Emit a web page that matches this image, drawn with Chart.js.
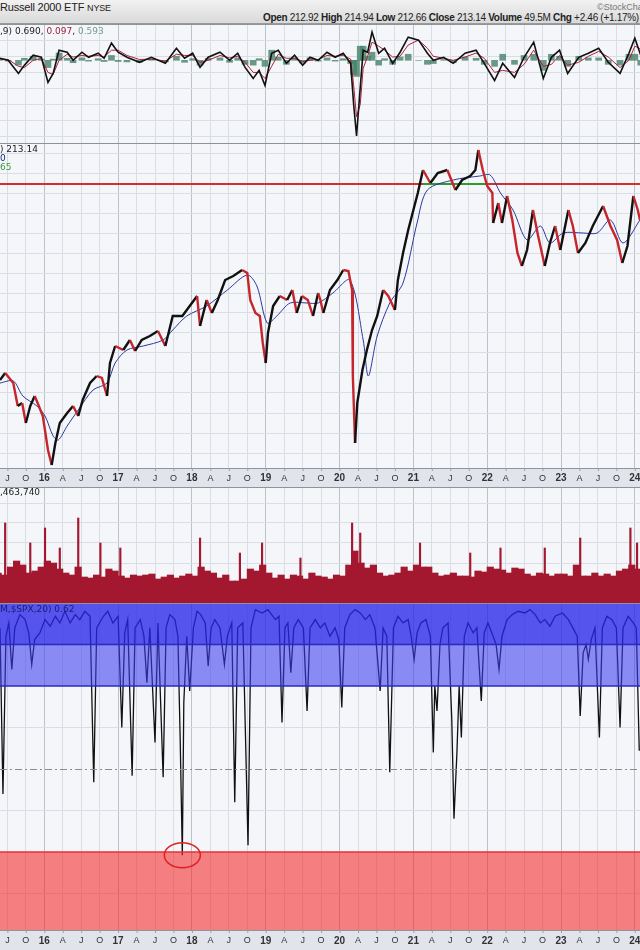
<!DOCTYPE html>
<html>
<head>
<meta charset="utf-8">
<script src="https://cdn.jsdelivr.net/npm/chart.js@4.4.0/dist/chart.umd.min.js"></script>
<style>
  body { margin: 0; width: 640px; height: 950px; overflow: hidden; background: #fff; position: relative;
         font-family: "Liberation Sans", Arial, sans-serif; }
  .box { position: absolute; left: 0; width: 640px; }
  #hdr { top: 0; height: 23px; background: linear-gradient(#f2f2f2, #d9d9d9); border-bottom: 1px solid #9a9a9a; overflow: hidden; }
  .lbl { position: absolute; left: 0; font: 9px "DejaVu Sans", Verdana, sans-serif; white-space: nowrap; z-index: 5; }
</style>
</head>
<body>
<div id="hdr" class="box">
  <div style="position:absolute;left:0;top:1px;font-size:11px;color:#222;letter-spacing:-0.2px">Russell 2000 ETF <span style="font-size:9px">NYSE</span></div>
  <div style="position:absolute;left:597px;top:2px;font-size:9px;color:#777;white-space:nowrap">©StockCharts.com</div>
  <div style="position:absolute;left:263px;top:12px;font-size:10px;color:#222;white-space:nowrap;letter-spacing:-0.3px">
    <b>Open</b> 212.92 <b>High</b> 214.94 <b>Low</b> 212.66 <b>Close</b> 213.14 <b>Volume</b> 49.5M <b>Chg</b> +2.46 (+1.17%)</div>
</div>

<div class="box" style="top:24px;height:119px"><canvas id="macd" width="640" height="119"></canvas></div>
<div class="box" style="top:143px;height:344px"><canvas id="price" width="640" height="344"></canvas></div>
<div class="box" style="top:487px;height:116px"><canvas id="vol" width="640" height="116"></canvas></div>
<div class="box" style="top:603px;height:347px"><canvas id="corr" width="640" height="347"></canvas></div>

<div class="lbl" style="top:26px;color:#222">,9) 0.690, <span style="color:#a0203c">0.097</span>, <span style="color:#6f9e8e">0.593</span></div>
<div class="lbl" style="top:144px;color:#222">) 213.14</div>
<div class="lbl" style="top:153px;color:#1c2a80">0</div>
<div class="lbl" style="top:162px;color:#3a9a3a">65</div>
<div class="lbl" style="top:487px;color:#222">,463,740</div>
<div class="lbl" style="top:604px;color:#1a1a70">M,$SPX,20) 0.62</div>

<script>
// ---- x range (decimal years) ----
const X_MIN = 2015.40, X_MAX = 2024.07;

// ---- MACD(12,26,9) ----
const macdDates = [2015.40, 2015.51, 2015.65, 2015.73, 2015.85, 2015.96, 2016.05, 2016.12, 2016.20, 2016.31,
  2016.39, 2016.51, 2016.60, 2016.73, 2016.81, 2016.91, 2017.00, 2017.12, 2017.29, 2017.45,
  2017.64, 2017.79, 2017.90, 2018.01, 2018.11, 2018.22, 2018.38, 2018.51, 2018.62, 2018.72,
  2018.83, 2018.91, 2018.99, 2019.08, 2019.17, 2019.28, 2019.39, 2019.50, 2019.60, 2019.71,
  2019.83, 2019.94, 2020.05, 2020.15, 2020.19, 2020.23, 2020.28, 2020.32, 2020.38, 2020.44,
  2020.53, 2020.61, 2020.72, 2020.82, 2020.93, 2021.07, 2021.19, 2021.27, 2021.41, 2021.54,
  2021.70, 2021.85, 2021.96, 2022.10, 2022.21, 2022.37, 2022.50, 2022.63, 2022.76, 2022.87,
  2022.98, 2023.09, 2023.24, 2023.37, 2023.51, 2023.64, 2023.80, 2023.92, 2024.00, 2024.08];
const macdLine = [0.5, 0, -3.25, -1.25, 1.25, 0.75, -5.5, -3.25, 2.5, 2,
  0, 2, 0.75, 1.75, 0.5, 4.25, 2, 0.75, -0.5, 0.75,
  -0.75, 3, 0.5, 1.75, -1.75, 0.75, 2, 0, 1.75, -1.75,
  -4.5, -2.5, -6.25, 1.75, 2.5, -0.75, 1.25, -1.25, 0.75, 0,
  2, 0.75, 1.75, -0.75, -10.75, -18.75, -6.75, 2.5, 2, 7,
  1.75, 3, -0.75, 2, 5.75, 5, 1.75, 0, 0.75, -0.75,
  1.75, 2.5, -0.75, -5, -0.75, -4.25, 0.75, 4.5, -4.5, 0.75,
  2.5, -3.25, 0.75, 1.75, 3, -0.5, -3.25, 1.75, 5.5, 1.25];
const macdSignal = [0.3, 0.2, -1.5, -1.8, 0, 0.5, -3, -3.5, 0, 1.5,
  0.8, 1.2, 1, 1.2, 0.8, 2.5, 2.5, 1.2, 0.2, 0.3,
  -0.2, 1.5, 1.2, 1.2, -0.5, 0, 1.2, 0.6, 1, -0.5,
  -3, -3, -4.5, -1.5, 1.5, 0.5, 0.5, -0.3, 0, 0.2,
  1.2, 1, 1.2, 0.3, -6, -14, -11, -2, 1, 4.5,
  3.5, 2.5, 0.8, 1, 3.8, 5, 3, 1, 0.5, 0,
  0.8, 1.8, 0.5, -3, -2.5, -3, -1, 2.5, -1.5, -1,
  1.2, -1.2, -0.5, 1, 2.2, 0.8, -1.8, 0, 3.5, 2.8];
const macdHist = [0.2, -0.2, -1.2, 0.5, 1, 0.3, -1.8, 0.3, 1.8, 0.5,
  -0.6, 0.6, -0.2, 0.4, -0.3, 1.2, -0.3, -0.4, -0.5, 0.3,
  -0.4, 1, -0.5, 0.4, -1.2, 0.5, 0.6, -0.5, 0.6, -1,
  -1.2, 0.4, -1.5, 2.5, 0.8, -1, 0.6, -0.7, 0.6, -0.2,
  0.6, -0.2, 0.4, -0.8, -3.5, -4, 3.5, 3.5, 1, 2,
  -1.2, 0.4, -1, 0.8, 1.5, 0, -1, -0.8, 0.2, -0.6,
  0.8, 0.5, -1, -1.5, 1.5, -1, 1.2, 1.5, -2.5, 1.5,
  1, -1.5, 1, 0.6, 0.6, -1, -1.2, 1.5, 1.5, -1.2];

// ---- price ----
const priceDates = [2015.40, 2015.47, 2015.58, 2015.64, 2015.70, 2015.75, 2015.81, 2015.87, 2015.91, 2015.98,
  2016.05, 2016.10, 2016.15, 2016.21, 2016.31, 2016.39, 2016.46, 2016.52, 2016.62, 2016.71,
  2016.78, 2016.85, 2016.89, 2016.96, 2017.07, 2017.16, 2017.23, 2017.32, 2017.43, 2017.54,
  2017.64, 2017.74, 2017.87, 2017.97, 2018.07, 2018.11, 2018.20, 2018.27, 2018.35, 2018.45,
  2018.56, 2018.68, 2018.75, 2018.79, 2018.86, 2018.92, 2018.96, 2019.00, 2019.03, 2019.10,
  2019.19, 2019.29, 2019.36, 2019.42, 2019.49, 2019.57, 2019.64, 2019.71,
  2019.74, 2019.78, 2019.87, 2019.97, 2020.05, 2020.12, 2020.17, 2020.18, 2020.21, 2020.24,
  2020.31, 2020.37, 2020.44, 2020.51, 2020.59, 2020.66, 2020.75, 2020.79, 2020.86, 2020.93,
  2021.00, 2021.06, 2021.13, 2021.23, 2021.33, 2021.46, 2021.57, 2021.66, 2021.77, 2021.84,
  2021.88, 2021.94, 2022.00, 2022.07, 2022.08, 2022.15, 2022.20, 2022.27, 2022.34, 2022.41,
  2022.47, 2022.54, 2022.62, 2022.69, 2022.78, 2022.85, 2022.92, 2022.99, 2023.10, 2023.16,
  2023.23, 2023.33, 2023.43, 2023.57, 2023.67, 2023.76, 2023.83, 2023.90, 2023.98, 2024.04, 2024.07];
const priceClose = [131.5, 135, 130, 118.5, 120, 110, 118.5, 123.5, 120, 113.5,
  96.5, 89, 100, 110, 115, 118.5, 113.5, 121.5, 130, 133.5,
  132.5, 123.5, 140, 148.5, 146.5, 151.5, 146, 151.5, 153.5, 156,
  148.5, 163.5, 163.5, 168.5, 173.5, 158.5, 171.5, 165, 171.5, 181.5,
  183.5, 186.5, 185, 171.5, 165, 163.5, 150, 140, 155, 168.5,
  173.5, 171.5, 176.5, 165, 173.5, 171.5, 163.5, 175,
  171.5, 165, 176.5, 181.5, 186.5, 186, 176.5, 133.5, 100, 120,
  136.5, 146.5, 156.5, 163.5, 176.5, 173.5, 166.5, 181.5, 195, 206.5,
  216.5, 225, 236.5, 230, 235, 236.5, 226.5, 231.5, 233.5, 236.5,
  246.5, 236.5, 228.5, 225, 210, 220, 210, 223.5, 211.5, 195,
  188.5, 196.5, 216.5, 203.5, 188.5, 200, 208.5, 196.5, 216.5, 208.5,
  195, 200, 208.5, 218.5, 208.5, 201.5, 190, 198.5, 223.5, 216.5, 211.5];
const maDates = [2015.40, 2015.58, 2015.71, 2015.90, 2016.01, 2016.12, 2016.19, 2016.31, 2016.46, 2016.66,
  2016.85, 2016.96, 2017.12, 2017.34, 2017.61, 2017.74, 2017.93, 2018.20, 2018.48, 2018.75,
  2018.88, 2019.02, 2019.15, 2019.33, 2019.56, 2019.71, 2019.91, 2020.14, 2020.32, 2020.39,
  2020.51, 2020.68, 2020.86, 2021.05, 2021.19, 2021.54, 2021.90, 2022.04, 2022.18, 2022.35,
  2022.54, 2022.72, 2022.85, 2023.03, 2023.30, 2023.49, 2023.67, 2023.84, 2024.07];
const maValues = [130, 131, 123.5, 118.5, 113.5, 103.5, 101.5, 108.5, 116.5, 126.5,
  130, 140, 146.5, 148.5, 151.5, 156.5, 163.5, 168.5, 176.5, 184,
  178.5, 160, 163.5, 170, 170, 170, 175, 181.5, 151.5, 133.5,
  153.5, 170, 180, 210, 226.5, 231.5, 233.5, 234, 225, 216.5,
  201.5, 208.5, 200, 205, 205, 205, 211.5, 200, 211.5];
const resistanceLevel = 229.5;
const plateauDates = [2021.13, 2022.00];

// ---- volume (millions) ----
const volStartYear = 2015, volStartMonth = 5;
const volMonthly = [30, 28, 36, 42, 38, 30, 32, 36,
  42, 40, 34, 30, 28, 36, 26, 25, 28, 26, 34, 32,
  27, 25, 28, 27, 28, 29, 24, 26, 28, 25, 27, 29,
  27, 36, 32, 30, 25, 28, 22, 22, 24, 34, 32, 38,
  30, 25, 28, 24, 28, 27, 24, 30, 27, 26, 24, 28,
  27, 38, 52, 40, 35, 38, 30, 27, 28, 30, 36, 32,
  38, 36, 36, 30, 27, 28, 30, 27, 27, 26, 32, 31,
  36, 34, 33, 30, 35, 34, 29, 27, 30, 29, 27, 29,
  29, 27, 38, 27, 27, 30, 27, 29, 27, 32, 34, 38,
  34];
const volSpikeDates = [2015.47, 2015.81, 2016.01, 2016.21, 2016.46, 2016.76, 2017.03, 2018.11, 2018.65, 2018.95,
  2019.47, 2020.17, 2020.28, 2021.09, 2021.77, 2022.18, 2022.78, 2023.26, 2023.94, 2024.03];
const volSpikeValues = [80, 60, 75, 55, 85, 60, 55, 65, 50, 60,
  45, 80, 70, 60, 50, 55, 55, 65, 75, 60];

// ---- correlation with $SPX (20) ----
const corrDates = [2015.40, 2015.44, 2015.48, 2015.52, 2015.56, 2015.60, 2015.67, 2015.74, 2015.79, 2015.83,
  2015.87, 2015.94, 2016.01, 2016.08, 2016.15, 2016.21, 2016.28, 2016.35, 2016.42, 2016.48,
  2016.55, 2016.62, 2016.67, 2016.71, 2016.80, 2016.86, 2016.93, 2017.00, 2017.05, 2017.09,
  2017.13, 2017.19, 2017.23, 2017.30, 2017.35, 2017.39, 2017.43, 2017.50, 2017.54, 2017.61,
  2017.65, 2017.70, 2017.77, 2017.81, 2017.84, 2017.87, 2017.89, 2017.93, 2017.97, 2018.02,
  2018.07, 2018.12, 2018.18, 2018.22, 2018.26, 2018.31, 2018.38, 2018.44, 2018.48, 2018.54,
  2018.58, 2018.62, 2018.69, 2018.76, 2018.80, 2018.86, 2018.95, 2019.03, 2019.13, 2019.18,
  2019.22, 2019.26, 2019.30, 2019.34, 2019.38, 2019.44, 2019.51, 2019.56, 2019.60, 2019.67,
  2019.74, 2019.80, 2019.87, 2019.94, 2019.99, 2020.03, 2020.07, 2020.14, 2020.21, 2020.28,
  2020.35, 2020.41, 2020.48, 2020.55, 2020.59, 2020.64, 2020.68, 2020.73, 2020.79, 2020.86,
  2020.93, 2020.97, 2021.01, 2021.05, 2021.10, 2021.17, 2021.23, 2021.27, 2021.29, 2021.32,
  2021.36, 2021.40, 2021.47, 2021.52, 2021.55, 2021.59, 2021.62, 2021.65, 2021.69, 2021.74,
  2021.81, 2021.86, 2021.92, 2021.96, 2022.01, 2022.08, 2022.12, 2022.16, 2022.20, 2022.27,
  2022.34, 2022.42, 2022.51, 2022.58, 2022.65, 2022.72, 2022.78, 2022.85, 2022.92, 2023.02,
  2023.10, 2023.16, 2023.22, 2023.26, 2023.30, 2023.34, 2023.37, 2023.41, 2023.46, 2023.52,
  2023.56, 2023.62, 2023.69, 2023.75, 2023.80, 2023.84, 2023.91, 2023.98, 2024.02, 2024.06];
const corrValues = [0.85, -0.15, 0.80, 0.88, 0.60, 0.85, 0.93, 0.90, 0.82, 0.63,
  0.78, 0.82, 0.90, 0.86, 0.92, 0.88, 0.95, 0.88, 0.93, 0.90,
  0.95, 0.92, -0.08, 0.85, 0.92, 0.95, 0.88, 0.92, 0.25, 0.82,
  0.90, -0.04, 0.85, 0.90, 0.80, 0.52, 0.85, 0.16, 0.88, -0.05,
  0.85, 0.93, 0.90, 0.80, 0.20, -0.52, 0.40, 0.80, 0.47, 0.85,
  0.95, 0.93, 0.88, 0.62, 0.85, 0.90, 0.85, 0.63, 0.80, 0.88,
  -0.20, 0.85, 0.88, -0.46, 0.85, 0.96, 0.94, 0.96, 0.90, 0.92,
  0.28, 0.85, 0.88, 0.58, 0.85, 0.90, 0.85, 0.35, 0.85, 0.90,
  0.85, 0.88, 0.80, 0.85, 0.78, 0.37, 0.85, 0.93, 0.96, 0.94,
  0.90, 0.93, 0.85, 0.47, 0.85, 0.80, -0.02, 0.85, 0.92, 0.88,
  0.90, 0.80, 0.66, 0.82, 0.88, 0.90, 0.80, 0.10, 0.50, 0.35,
  0.75, 0.85, 0.88, 0.30, -0.30, 0.10, 0.50, 0.19, 0.80, 0.88,
  0.82, 0.85, 0.41, 0.82, 0.88, 0.80, 0.75, 0.60, 0.80, 0.90,
  0.93, 0.95, 0.94, 0.96, 0.93, 0.88, 0.90, 0.86, 0.92, 0.94,
  0.90, 0.85, 0.80, 0.32, 0.70, 0.75, 0.66, 0.78, 0.85, 0.19,
  0.85, 0.92, 0.90, 0.85, 0.25, 0.85, 0.92, 0.88, 0.85, 0.11];
const bandLow = [0.75, 0.5, -1];
const bandHigh = [1, 0.75, -0.5];
const circledPoint = [2017.87, -0.52];

// ---- helpers ----
const pts = (xs, ys) => xs.map((x, i) => ({ x: x, y: ys[i] }));
const quarterTicks = [];
for (let y = 2015; y <= 2024; y++) {
  [0, 0.25, 0.5, 0.75].forEach(q => { if (y + q >= X_MIN && y + q <= X_MAX) quarterTicks.push(y + q); });
}
function quarterLabel(v) {
  if (Number.isInteger(v)) return String(v).slice(2);
  return { 0.25: 'A', 0.5: 'J', 0.75: 'O' }[v - Math.floor(v)];
}

const panelBg = {
  id: 'panelBg',
  beforeDraw(chart) {
    const { ctx, chartArea: a } = chart;
    ctx.save();
    ctx.fillStyle = '#f5f6fa';
    ctx.fillRect(a.left, a.top, a.right - a.left, a.bottom - a.top);
    ctx.restore();
  },
  afterDraw(chart) {
    const { ctx, chartArea: a } = chart;
    ctx.save();
    ctx.strokeStyle = '#8e939c';
    ctx.beginPath(); ctx.moveTo(0, a.top + 0.5); ctx.lineTo(chart.width, a.top + 0.5); ctx.stroke();
    ctx.restore();
  }
};

const axisStrip = {
  id: 'axisStrip',
  afterDraw(chart) {
    const { ctx, chartArea: a, scales: { x } } = chart;
    const top = a.bottom, h = chart.height - a.bottom;
    ctx.save();
    ctx.fillStyle = '#e1e4ea';
    ctx.fillRect(0, top, chart.width, h);
    ctx.strokeStyle = '#8e939c';
    ctx.beginPath(); ctx.moveTo(0, top + 0.5); ctx.lineTo(chart.width, top + 0.5); ctx.stroke();
    ctx.textAlign = 'center'; ctx.textBaseline = 'middle'; ctx.fillStyle = '#333';
    quarterTicks.forEach(v => {
      const px = x.getPixelForValue(v);
      ctx.font = Number.isInteger(v) ? 'bold 10px "Liberation Sans", Arial' : '9px "Liberation Sans", Arial';
      ctx.fillText(quarterLabel(v), px, top + h / 2 + 1);
      ctx.strokeStyle = '#9aa0aa';
      ctx.beginPath(); ctx.moveTo(px + 0.5, top); ctx.lineTo(px + 0.5, top + 3); ctx.stroke();
    });
    ctx.restore();
  }
};

const corrBands = {
  id: 'corrBands',
  afterDatasetsDraw(chart) {
    const { ctx, chartArea: a, scales: { x, y } } = chart;
    const fills = ['rgba(40,40,235,0.78)', 'rgba(60,60,240,0.58)', 'rgba(245,40,40,0.58)'];
    ctx.save();
    bandLow.forEach((lo, i) => {
      const y1 = y.getPixelForValue(bandHigh[i]), y2 = y.getPixelForValue(Math.max(lo, y.min));
      ctx.fillStyle = fills[i];
      ctx.fillRect(a.left, y1, a.right - a.left, y2 - y1);
    });
    ctx.lineWidth = 1.5;
    [[1, '#2a2ac0'], [0.75, '#2a2ac0'], [0.5, '#2a2ac0'], [-0.5, '#e03434']].forEach(([v, c]) => {
      const py = y.getPixelForValue(v);
      ctx.strokeStyle = c;
      ctx.beginPath(); ctx.moveTo(a.left, py); ctx.lineTo(a.right, py); ctx.stroke();
    });
    ctx.lineWidth = 1; ctx.strokeStyle = '#8c8c8c'; ctx.setLineDash([7, 3, 2, 3]);
    const p0 = Math.round(y.getPixelForValue(0)) + 0.5;
    ctx.beginPath(); ctx.moveTo(a.left, p0); ctx.lineTo(a.right, p0); ctx.stroke();
    ctx.setLineDash([]);
    ctx.strokeStyle = '#e02020'; ctx.lineWidth = 1.5;
    ctx.beginPath();
    ctx.ellipse(x.getPixelForValue(circledPoint[0]), y.getPixelForValue(circledPoint[1]), 18, 12.5, 0, 0, Math.PI * 2);
    ctx.stroke();
    ctx.restore();
  }
};

function scalesFor(yMin, yMax, yTicks) {
  return {
    x: {
      type: 'linear', min: X_MIN, max: X_MAX, offset: false,
      afterBuildTicks: s => { s.ticks = quarterTicks.map(v => ({ value: v })); },
      ticks: { display: false },
      grid: { drawTicks: false, offset: false, color: c => (c.tick && Number.isInteger(c.tick.value)) ? '#bcc1ca' : '#d9dde4' },
      border: { display: false }
    },
    y: {
      type: 'linear', min: yMin, max: yMax,
      afterBuildTicks: s => { s.ticks = yTicks.map(v => ({ value: v })); },
      ticks: { display: false },
      grid: { drawTicks: false, color: '#d9dde4' },
      border: { display: false }
    }
  };
}
function baseOptions(yMin, yMax, yTicks, bottomPad) {
  return {
    responsive: false, animation: false, events: [],
    layout: { padding: { left: 0, right: 0, top: 0, bottom: bottomPad } },
    plugins: { legend: { display: false }, tooltip: { enabled: false } },
    scales: scalesFor(yMin, yMax, yTicks)
  };
}

// MACD panel
new Chart(document.getElementById('macd'), {
  type: 'line',
  data: { datasets: [
    { type: 'bar', data: pts(macdDates, macdHist), backgroundColor: 'rgba(70,130,105,0.8)', barThickness: 6, order: 3 },
    { data: pts(macdDates, macdSignal), borderColor: '#b0203c', borderWidth: 1, pointRadius: 0, tension: 0, order: 2 },
    { data: pts(macdDates, macdLine), borderColor: '#111', borderWidth: 1.6, pointRadius: 0, tension: 0, order: 1 }
  ] },
  options: baseOptions(-20.5, 9, [-19, -15, -11, -7, -3, 1, 5], 0),
  plugins: [panelBg]
});

// price panel
new Chart(document.getElementById('price'), {
  type: 'line',
  data: { datasets: [
    { data: pts([X_MIN, X_MAX], [resistanceLevel, resistanceLevel]), borderColor: '#d23030', borderWidth: 2, pointRadius: 0, order: 5 },
    { data: pts(plateauDates, [resistanceLevel, resistanceLevel]), borderColor: '#2f9a2f', borderWidth: 2, pointRadius: 0, order: 4 },
    { data: pts(maDates, maValues), borderColor: '#2b3a9c', borderWidth: 1, pointRadius: 0, tension: 0.3, order: 3 },
    { data: pts(priceDates, priceClose), borderWidth: 2.4, pointRadius: 0, tension: 0, order: 1,
      borderColor: '#111',
      segment: { borderColor: c => c.p1.parsed.y < c.p0.parsed.y ? '#c4262c' : '#111' } }
  ] },
  options: baseOptions(87.5, 250, [95, 105, 115, 125, 135, 145, 155, 165, 175, 185, 195, 205, 215, 225, 235, 245], 19),
  plugins: [panelBg, axisStrip]
});

// volume panel
const volDates = volMonthly.map((v, i) => {
  const m = volStartMonth - 1 + i;
  return volStartYear + Math.floor(m / 12) + ((m % 12) + 0.5) / 12;
});
new Chart(document.getElementById('vol'), {
  type: 'bar',
  data: { datasets: [
    { data: pts(volDates, volMonthly), backgroundColor: '#a3172f', barThickness: 6.5, grouped: false },
    { data: pts(volSpikeDates, volSpikeValues), backgroundColor: '#a3172f', barThickness: 1.5, grouped: false }
  ] },
  options: baseOptions(0, 116, [20, 40, 60, 80, 100], 0),
  plugins: [panelBg]
});

// correlation panel
new Chart(document.getElementById('corr'), {
  type: 'line',
  data: { datasets: [
    { data: pts(corrDates, corrValues), borderColor: '#111', borderWidth: 1.3, pointRadius: 0, tension: 0 }
  ] },
  options: baseOptions(-0.97, 1.0, [-0.75, -0.25, 0.25], 20),
  plugins: [panelBg, corrBands, axisStrip]
});
</script>
</body>
</html>
